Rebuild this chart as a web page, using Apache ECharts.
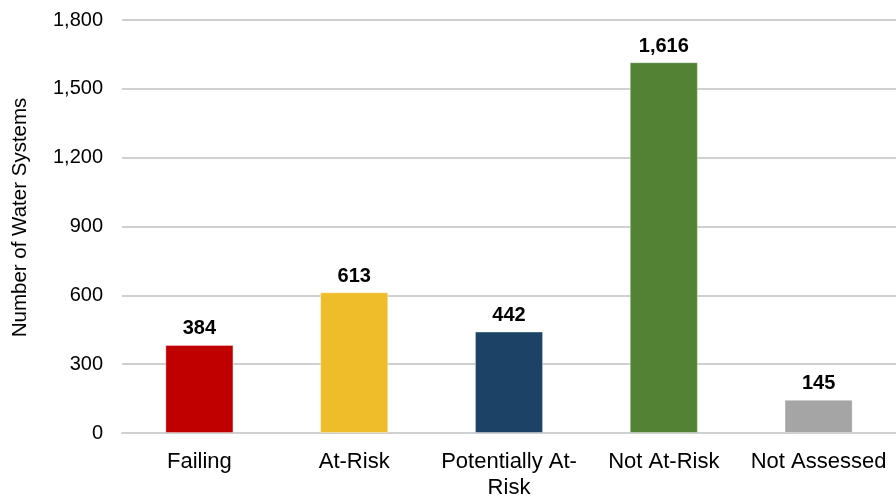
<!DOCTYPE html>
<html>
<head>
<meta charset="utf-8">
<script src="https://cdn.jsdelivr.net/npm/echarts@6/dist/echarts.min.js"></script>
<style>
html,body{margin:0;padding:0;background:#fff;}
#c{width:896px;height:497px;}
</style>
</head>
<body>
<div id="c"></div>
<script>
const categories = ['Failing', 'At-Risk', 'Potentially At-Risk', 'Not At-Risk', 'Not Assessed'];
const values = [384, 613, 442, 1616, 145];
const barColors = ['#C00000', '#F0BD2A', '#1C4366', '#548235', '#A5A5A5'];
const yTicks = [0, 300, 600, 900, 1200, 1500, 1800];
const yAxisTitle = 'Number of Water Systems';

const chart = echarts.init(document.getElementById('c'), null, {renderer: 'canvas'});
const font = 'Liberation Sans, Arial, sans-serif';
chart.setOption({
  animation: false,
  grid: {left: 122, right: 0, top: 20, bottom: 64, containLabel: false, outerBoundsMode: 'none'},
  xAxis: {
    type: 'category',
    data: categories,
    axisTick: {show: false},
    axisLine: {lineStyle: {color: '#d0d0d0', width: 2}},
    axisLabel: {
      interval: 0,
      color: '#000',
      fontFamily: font,
      fontSize: 22,
      lineHeight: 26,
      margin: 16,
      formatter: function (v) { return v === 'Potentially At-Risk' ? 'Potentially At-\nRisk' : v; }
    }
  },
  yAxis: {
    type: 'value',
    min: yTicks[0],
    max: yTicks[yTicks.length - 1],
    interval: yTicks[1] - yTicks[0],
    name: yAxisTitle,
    nameLocation: 'middle',
    nameRotate: 90,
    nameGap: 91,
    nameTextStyle: {color: '#000', fontFamily: font, fontSize: 20.5, padding: [0, 0, 0, 18]},
    axisLine: {show: false},
    axisTick: {show: false},
    axisLabel: {
      color: '#000',
      fontFamily: font,
      fontSize: 20,
      margin: 19,
      formatter: function (v) { return v.toLocaleString('en-US'); }
    },
    splitLine: {lineStyle: {color: '#d0d0d0', width: 2}}
  },
  series: [{
    type: 'bar',
    barWidth: '44%',
    data: values.map((v, i) => ({value: v, itemStyle: {color: barColors[i]}})),
    itemStyle: {borderColor: 'rgba(255,255,255,0.35)', borderWidth: 1},
    label: {
      show: true,
      position: 'top',
      distance: 6,
      color: '#000',
      fontFamily: font,
      fontWeight: 'bold',
      fontSize: 20,
      formatter: function (p) { return p.value.toLocaleString('en-US'); }
    }
  }]
});
</script>
</body>
</html>
